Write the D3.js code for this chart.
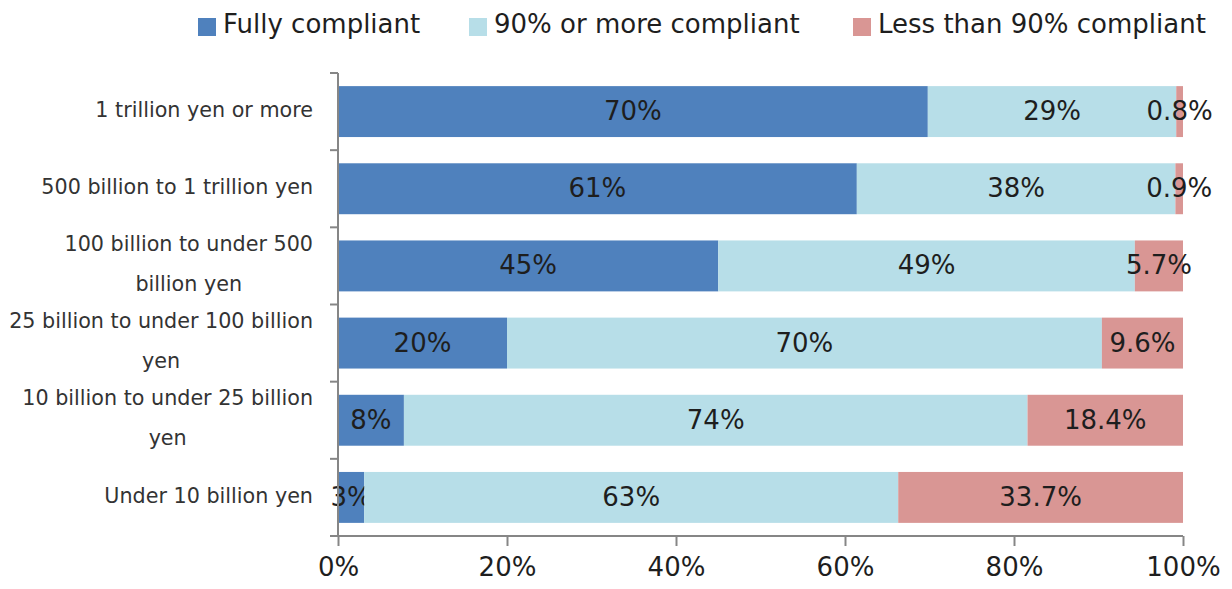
<!DOCTYPE html>
<html>
<head>
<meta charset="utf-8">
<script src="https://cdn.jsdelivr.net/npm/d3@7"></script>
<style>
  body { margin: 0; background: #fff; }
  svg { display: block; font-family: "DejaVu Sans", Verdana, sans-serif; }
</style>
</head>
<body>
<svg id="chart" width="1232" height="589"></svg>
<script>
// Company size groups, top to bottom.
const categories = [
  '1 trillion yen or more',
  '500 billion to 1 trillion yen',
  '100 billion to under 500 billion yen',
  '25 billion to under 100 billion yen',
  '10 billion to under 25 billion yen',
  'Under 10 billion yen'
];

const seriesNames = ['Fully compliant', '90% or more compliant', 'Less than 90% compliant'];
const seriesColors = ['#4f81bd', '#b7dee8', '#d99694'];

// Shares in percent for each group.
const fullyCompliant = [69.8, 61.4, 45.0, 20.0, 7.8, 3.1];
const mostlyCompliant = [29.4, 37.7, 49.3, 70.4, 73.8, 63.2];
const lessCompliant = [0.8, 0.9, 5.7, 9.6, 18.4, 33.7];

const xTicks = [0, 20, 40, 60, 80, 100];

const svg = d3.select('#chart');
const margin = { top: 73, right: 49, bottom: 53, left: 338 };
const width = 1232 - margin.left - margin.right;
const height = 589 - margin.top - margin.bottom;

const g = svg.append('g').attr('transform', `translate(${margin.left},${margin.top})`);

const rows = categories.map((c, i) => ({
  category: c,
  full: fullyCompliant[i],
  mostly: mostlyCompliant[i],
  less: lessCompliant[i]
}));
const keys = ['full', 'mostly', 'less'];

const stack = d3.stack().keys(keys);
const series = stack(rows);

const x = d3.scaleLinear().domain([0, 100]).range([0, width]);
const y = d3.scaleBand()
  .domain(categories)
  .range([0, height])
  .paddingInner(0.34)
  .paddingOuter(0.17);

// Bars
const layer = g.selectAll('.layer')
  .data(series)
  .enter()
  .append('g')
  .attr('class', 'layer')
  .attr('fill', (d, i) => seriesColors[i]);

layer.selectAll('rect')
  .data(d => d)
  .enter()
  .append('rect')
  .attr('x', d => x(d[0]))
  .attr('y', d => y(d.data.category))
  .attr('width', d => x(d[1]) - x(d[0]))
  .attr('height', y.bandwidth());

// Value labels, centered in each segment
layer.selectAll('text')
  .data((d, i) => d.map(s => ({ s, i })))
  .enter()
  .append('text')
  .attr('x', d => (x(d.s[0]) + x(d.s[1])) / 2)
  .attr('y', d => y(d.s.data.category) + y.bandwidth() / 2)
  .attr('dy', '0.33em')
  .attr('text-anchor', 'middle')
  .attr('fill', '#1e1e1e')
  .style('font-size', '26px')
  .text(d => {
    const v = d.s[1] - d.s[0];
    return d.i === 2 ? v.toFixed(1) + '%' : Math.round(v) + '%';
  });

// X axis
const xAxis = g.append('g')
  .attr('transform', `translate(0,${height})`)
  .call(d3.axisBottom(x).tickValues(xTicks).tickFormat(d => d + '%').tickSize(10).tickSizeOuter(0));
xAxis.select('.domain').attr('stroke', '#868686').attr('stroke-width', 2)
  .attr('d', `M-8,0H${width}`);
xAxis.selectAll('.tick line').attr('stroke', '#868686').attr('stroke-width', 2);
xAxis.selectAll('.tick text')
  .attr('fill', '#1e1e1e')
  .attr('y', 22)
  .attr('dy', '0.71em')
  .style('font-size', '26px')
  .style('font-family', '"DejaVu Sans", Verdana, sans-serif');

// Y axis line and ticks at band boundaries
const yAxis = g.append('g');
yAxis.append('line')
  .attr('x1', 0).attr('x2', 0)
  .attr('y1', 0).attr('y2', height)
  .attr('stroke', '#868686').attr('stroke-width', 2);
yAxis.selectAll('.ytick')
  .data(d3.range(categories.length))
  .enter()
  .append('line')
  .attr('x1', -8).attr('x2', 0)
  .attr('y1', i => i * y.step())
  .attr('y2', i => i * y.step())
  .attr('stroke', '#868686').attr('stroke-width', 2);

// Category labels, wrapped and centered as a block, right-aligned to the axis
const labelSize = 20.7;
const lineGap = 40;
const maxLabelWidth = 310;
const labelRight = -25;

const measure = svg.append('text').style('font-size', labelSize + 'px');
function wrap(str) {
  const words = str.split(' ');
  const lines = [];
  let line = [];
  words.forEach(w => {
    const test = line.concat(w).join(' ');
    measure.text(test);
    if (line.length && measure.node().getComputedTextLength() > maxLabelWidth) {
      lines.push(line.join(' '));
      line = [w];
    } else {
      line.push(w);
    }
  });
  lines.push(line.join(' '));
  return lines;
}

categories.forEach(c => {
  const lines = wrap(c);
  const widths = lines.map(l => { measure.text(l); return measure.node().getComputedTextLength(); });
  const blockWidth = d3.max(widths);
  const cx = labelRight - blockWidth / 2;
  const cy = y(c) + y.bandwidth() / 2;
  const t = g.append('text')
    .attr('text-anchor', 'middle')
    .attr('fill', '#333')
    .style('font-size', labelSize + 'px');
  lines.forEach((l, j) => {
    t.append('tspan')
      .attr('x', cx)
      .attr('y', cy + (j - (lines.length - 1) / 2) * lineGap - 2)
      .attr('dy', '0.35em')
      .text(l);
  });
});
measure.remove();

// Legend
const legendX = [198, 469, 853];
const legend = svg.append('g');
seriesNames.forEach((name, i) => {
  legend.append('rect')
    .attr('x', legendX[i]).attr('y', 18)
    .attr('width', 18).attr('height', 18)
    .attr('fill', seriesColors[i]);
  legend.append('text')
    .attr('x', legendX[i] + 25).attr('y', 33)
    .attr('fill', '#1e1e1e')
    .style('font-size', '26px')
    .text(name);
});
</script>
</body>
</html>
